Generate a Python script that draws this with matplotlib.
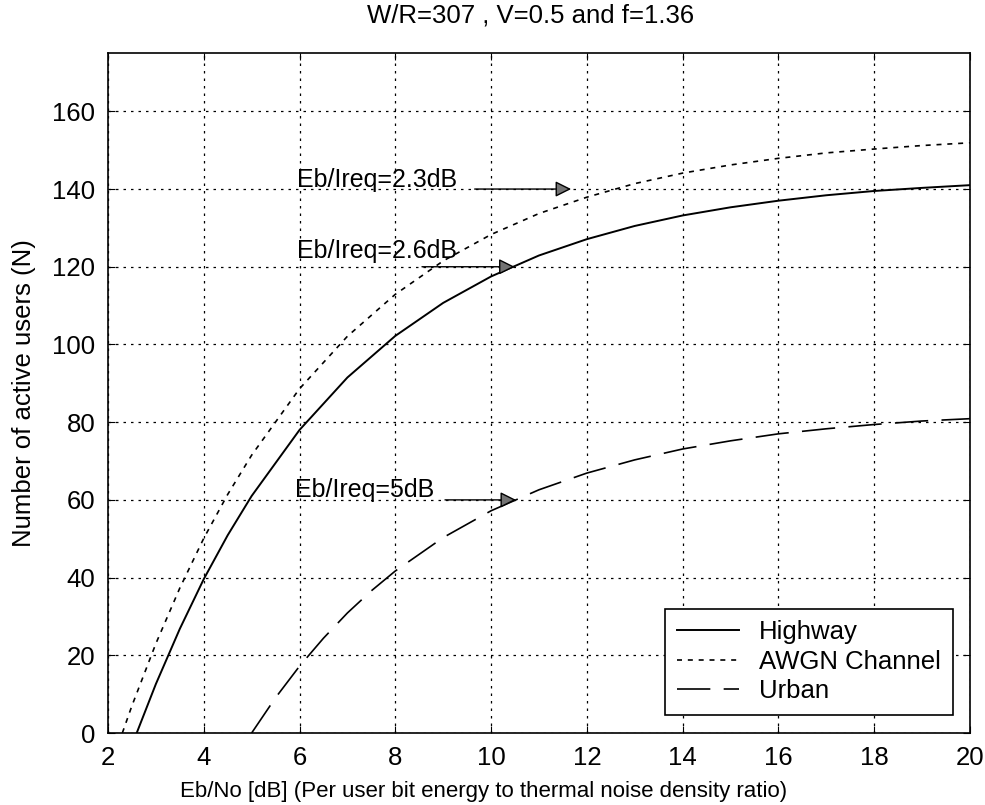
import matplotlib
matplotlib.use('Agg')
import matplotlib.pyplot as plt

plt.rcParams['font.family'] = ['Liberation Sans', 'DejaVu Sans']

# valeurs
eb_hw = [2.6, 3, 3.5, 4, 4.5, 5, 6, 7, 8, 9, 10, 11, 12, 13, 14, 15, 16, 17, 18, 19, 20]
n_hw = [0, 12.6, 26.8, 39.6, 50.9, 61.0, 78.0, 91.5, 102.2, 110.7, 117.5, 122.9,
        127.1, 130.5, 133.2, 135.3, 137.0, 138.4, 139.5, 140.3, 141.0]

eb_awgn = [2.3, 2.5, 3, 3.5, 4, 4.5, 5, 6, 7, 8, 9, 10, 11, 12, 13, 14, 15, 16, 17, 18, 19, 20]
n_awgn = [0, 7.0, 23.0, 37.3, 50.1, 61.4, 71.5, 88.6, 102.1, 112.9, 121.5, 128.3, 133.7,
          137.9, 141.4, 144.1, 146.2, 147.9, 149.3, 150.3, 151.2, 151.9]

eb_urb = [5, 5.5, 6, 6.5, 7, 7.5, 8, 9, 10, 11, 12, 13, 14, 15, 16, 17, 18, 19, 20]
n_urb = [0, 9.1, 17.2, 24.4, 30.9, 36.6, 41.7, 50.3, 57.2, 62.6, 66.9, 70.3, 73.1,
         75.2, 77.0, 78.3, 79.4, 80.3, 80.9]

labels = ['Highway', 'AWGN Channel', 'Urban']
xticks = [2, 4, 6, 8, 10, 12, 14, 16, 18, 20]
yticks = [0, 20, 40, 60, 80, 100, 120, 140, 160]

fig = plt.figure(figsize=(9.85, 8.05), dpi=100)
ax = fig.add_axes([0.1096, 0.0894, 0.8751, 0.8447])

ax.plot(eb_hw, n_hw, color='black', lw=1.4, ls='-', label=labels[0])
ax.plot(eb_awgn, n_awgn, color='black', lw=1.2, ls=(0, (3, 3.5)), label=labels[1])
ax.plot(eb_urb, n_urb, color='black', lw=1.2, ls=(0, (20, 8)), label=labels[2])

# fleches + textes
fl = dict(arrowstyle='-|>', color='black', lw=1, fc='0.45', mutation_scale=24)
ax.annotate('', xy=(11.73, 140), xytext=(9.6, 140), arrowprops=fl)
ax.annotate('', xy=(10.55, 120), xytext=(8.5, 120), arrowprops=fl)
ax.annotate('', xy=(10.58, 60), xytext=(8.98, 60), arrowprops=fl)
ax.text(5.94, 140.6, 'Eb/Ireq=2.3dB', fontsize=18, va='baseline')
ax.text(5.94, 122.3, 'Eb/Ireq=2.6dB', fontsize=18, va='baseline')
ax.text(5.9, 60.8, 'Eb/Ireq=5dB', fontsize=18, va='baseline')

ax.set_xlim(2, 20)
ax.set_ylim(0, 175)
ax.set_xticks(xticks)
ax.set_yticks(yticks)
ax.tick_params(direction='in', length=5, top=True, right=True, labelsize=18.5, pad=9)
ax.grid(True, color='black', ls=(0, (2, 4)), lw=0.9)
for s in ax.spines.values():
    s.set_linewidth(1.2)

ax.set_title('W/R=307 , V=0.5 and f=1.36', fontsize=18.5, pad=22, x=0.49)
ax.set_xlabel('Eb/No [dB] (Per user bit energy to thermal noise density ratio)', fontsize=16)
ax.xaxis.set_label_coords(0.436, -0.07)
ax.set_ylabel('Number of active users (N)', fontsize=18.5, labelpad=12)

leg = ax.legend(loc='lower right', bbox_to_anchor=(0.98, 0.0265), borderaxespad=0,
                fontsize=18.5, fancybox=False, framealpha=1, edgecolor='black',
                handlelength=2.4, labelspacing=0.22, borderpad=0.45, handletextpad=0.8)
leg.get_frame().set_linewidth(1.2)

plt.savefig('out.png', dpi=100)
